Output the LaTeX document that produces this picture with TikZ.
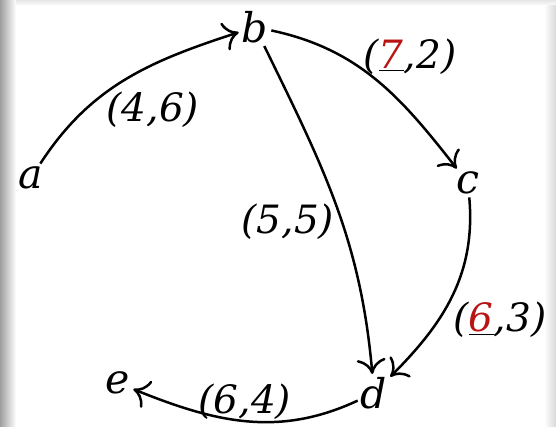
\documentclass[tikz,border=0pt]{standalone}
\usepackage{fontspec}
\setmainfont{DejaVu Serif}
\usetikzlibrary{arrows.meta}
\definecolor{myred}{RGB}{185,20,20}
\newcommand{\redul}[1]{\underline{\textcolor{myred}{#1}}}
\tikzset{
  vtx/.style={inner sep=3pt, font=\fontsize{41}{46}\selectfont\itshape},
  lbl/.style={inner sep=0pt, font=\fontsize{39}{46}\selectfont\itshape},
  edge/.style={line width=2.5pt, -{Computer Modern Rightarrow[length=15pt,width=29pt,line width=2.5pt]}},
}
\begin{document}
\begin{tikzpicture}[x=1pt,y=1pt]
\useasboundingbox (0,0) rectangle (556,426);
\fill[white] (0,0) rectangle (556,426);
\shade[left color=gray!75, right color=white] (0,0) rectangle (16,426);
\shade[top color=gray!20, bottom color=white] (16,420) rectangle (556,426);
\shade[left color=white, right color=gray!30] (544,0) rectangle (556,420);

\node[vtx] (a) at (31,248) {a};
\node[vtx] (b) at (255,399) {b};
\node[vtx] (c) at (468,243) {c};
\node[vtx] (d) at (374,33) {d};
\node[vtx] (e) at (118,43) {e};

\draw[edge] (a) to[out=57,in=198] (b);
\draw[edge] (b) to[out=-12,in=128] (c);
\draw[edge] (b) to[out=-64,in=95] (d);
\draw[edge] (c) to[out=-85,in=45] (d);
\draw[edge] (d) to[out=205,in=-22] (e);

\node[lbl] (l1) at (153,316) {(4,6)};
\node[lbl] (l2) at (410,369) {(\redul{7},2)};
\node[lbl] (l3) at (288,204) {(5,5)};
\node[lbl] (l4) at (500,106) {(\redul{6},3)};
\node[lbl] (l5) at (245,24) {(6,4)};
\end{tikzpicture}
\end{document}
